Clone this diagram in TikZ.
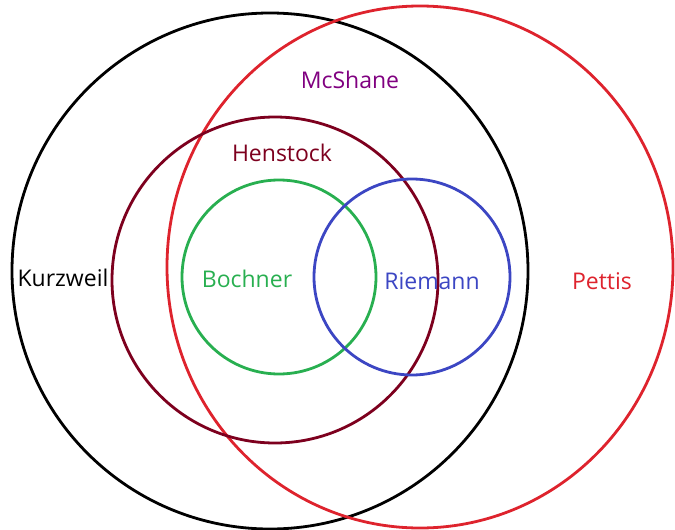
\documentclass[tikz,border=0pt]{standalone}
\usepackage{fontspec}
\setmainfont{Open Sans}
\usepackage{tikz}

\definecolor{cKurz}{RGB}{0,0,0}
\definecolor{cPett}{RGB}{222,35,45}
\definecolor{cHens}{RGB}{125,0,30}
\definecolor{cBoch}{RGB}{40,175,80}
\definecolor{cRiem}{RGB}{60,70,195}
\definecolor{cMcSh}{RGB}{128,0,128}

\begin{document}
\begin{tikzpicture}[x=0.5pt,y=-0.5pt]
\tikzset{
  set/.style={line width=1.4pt},
  setname/.style={inner sep=0pt,anchor=base,font=\fontsize{11.5}{14}\selectfont}
}
\useasboundingbox (0,0) rectangle (675,530);
% centres of the sets
\coordinate (Kc) at (270,271);
\coordinate (Pc) at (420,267);
\coordinate (Hc) at (275,280);
\coordinate (Bc) at (279,277);
\coordinate (Rc) at (412,277);
% circles
\draw[set,cKurz] (Kc) circle[radius=258];
\draw[set,cPett] (Pc) ellipse[x radius=253,y radius=261];
\draw[set,cHens] (Hc) circle[radius=163];
\draw[set,cBoch] (Bc) circle[radius=97];
\draw[set,cRiem] (Rc) circle[radius=98];
% labels
\node[setname,cMcSh] (mcshane) at (350,88) {McShane};
\node[setname,cHens] (henstock) at (282,161) {Henstock};
\node[setname,cKurz] (kurzweil) at (63,286) {Kurzweil};
\node[setname,cBoch] (bochner) at (247,287) {Bochner};
\node[setname,cRiem] (riemann) at (432,289) {Riemann};
\node[setname,cPett] (pettis) at (602,289) {Pettis};
\end{tikzpicture}
\end{document}
